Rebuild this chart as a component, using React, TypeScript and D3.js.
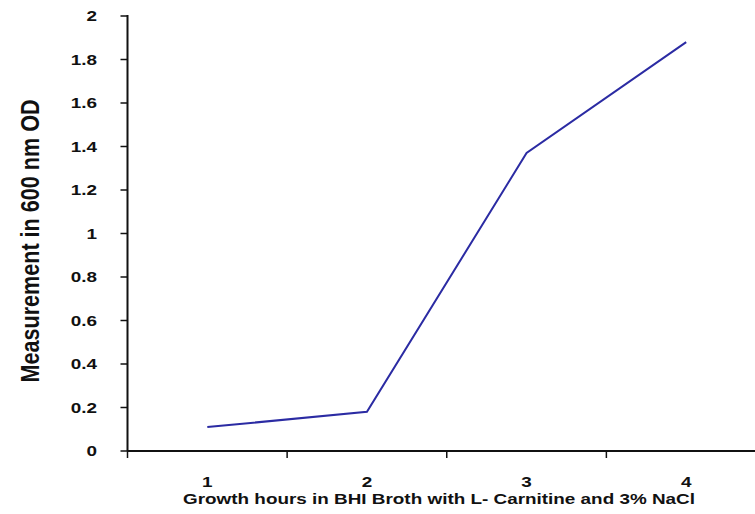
import React from "react";
import * as d3 from "d3";

const categories = ["1", "2", "3", "4"];
const values = [0.11, 0.18, 1.37, 1.88];
const yTicks = [0, 0.2, 0.4, 0.6, 0.8, 1, 1.2, 1.4, 1.6, 1.8, 2];
const xTitle = "Growth hours in BHI Broth with L- Carnitine and 3% NaCl";
const yTitle = "Measurement in 600 nm OD";

export default function App() {
  const W = 755, H = 514;
  const x0 = 127.5, x1 = 766;
  const sx = 1.26;
  const x = d3.scaleBand().domain(categories).range([x0, x1]);
  const y = d3.scaleLinear().domain([0, 2]).range([451, 16]);
  const line = d3
    .line<number>()
    .x((_, i) => (x(categories[i]) as number) + x.bandwidth() / 2)
    .y((d) => y(d));
  const font = "Liberation Sans, Arial, Helvetica, sans-serif";
  const bounds = [x0, ...categories.slice(1).map((c) => x(c) as number)];
  return (
    <svg
      width={W}
      height={H}
      style={{ position: "absolute", left: 0, top: 0, background: "#fff" }}
      fontFamily={font}
      fontWeight="bold"
      fill="#111"
    >
      {/* y axis */}
      <line x1={x0} x2={x0} y1={15} y2={y(0)} stroke="#111" strokeWidth={2} />
      {yTicks.map((t) => (
        <g key={t}>
          <line x1={x0 - 7} x2={x0} y1={y(t)} y2={y(t)} stroke="#111" strokeWidth={1.5} />
          <text
            transform={`translate(97,${y(t)}) scale(${sx},1)`}
            dy="0.36em"
            textAnchor="end"
            fontSize={15}
          >
            {t}
          </text>
        </g>
      ))}
      {/* x axis */}
      <line x1={x0} x2={W} y1={y(0)} y2={y(0)} stroke="#111" strokeWidth={2} />
      {bounds.map((b, i) => (
        <line key={i} x1={b} x2={b} y1={y(0)} y2={y(0) + 7} stroke="#111" strokeWidth={1.5} />
      ))}
      {categories.map((c) => (
        <text
          key={c}
          transform={`translate(${(x(c) as number) + x.bandwidth() / 2},487) scale(${sx},1)`}
          textAnchor="middle"
          fontSize={15}
        >
          {c}
        </text>
      ))}
      <path d={line(values) || ""} fill="none" stroke="#2b2ba3" strokeWidth={2} />
      <text
        transform={`translate(439,504) scale(${sx},1)`}
        textAnchor="middle"
        fontSize={15}
      >
        {xTitle}
      </text>
      <text
        transform={`translate(39,241) scale(1.2,1) rotate(-90)`}
        textAnchor="middle"
        fontSize={22}
        textLength={283}
        lengthAdjust="spacingAndGlyphs"
      >
        {yTitle}
      </text>
    </svg>
  );
}
